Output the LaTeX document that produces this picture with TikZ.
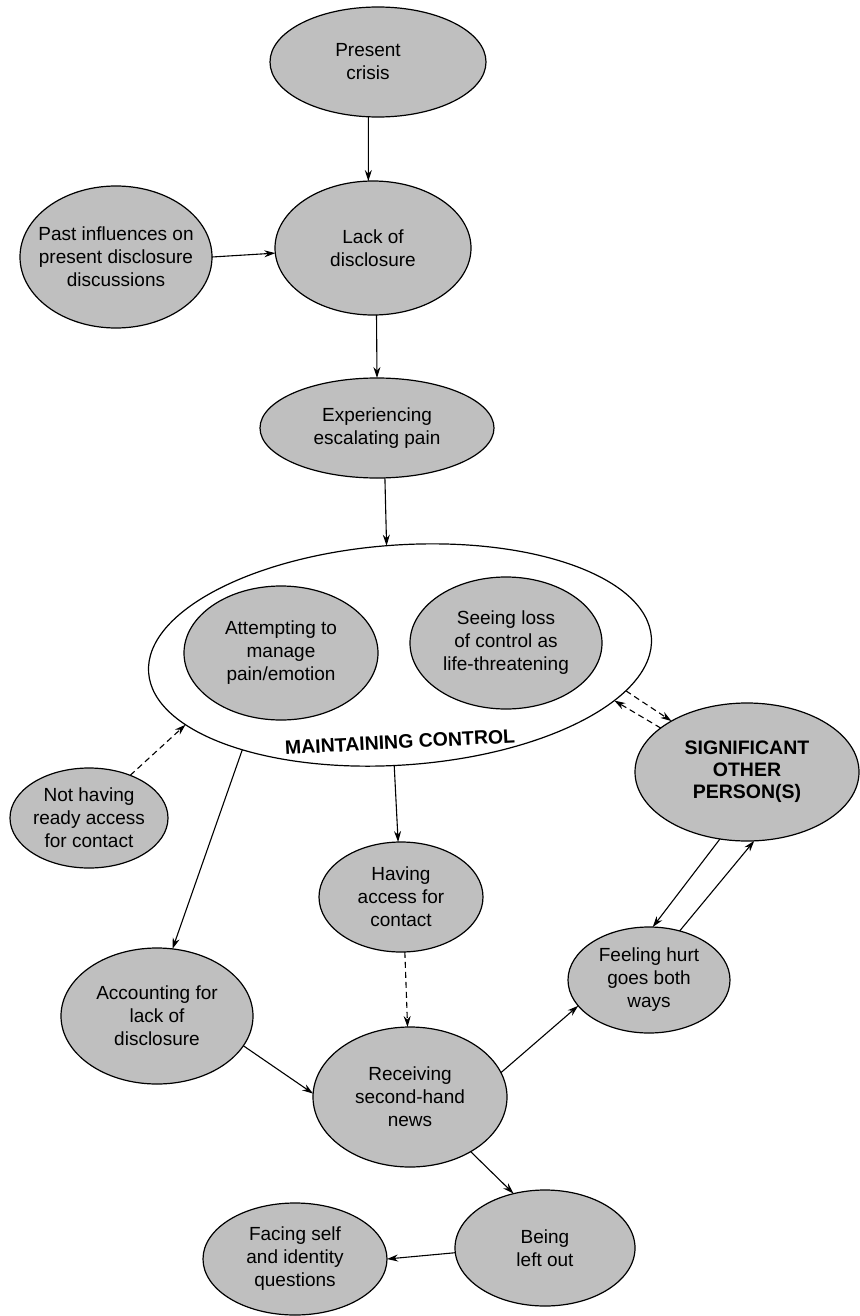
\documentclass[tikz,border=0pt]{standalone}
\usepackage{fontspec}
\setmainfont{Liberation Sans}
\usetikzlibrary{shapes.geometric,arrows.meta}
\begin{document}
\begin{tikzpicture}[x=1pt,y=-1pt,
  ell/.style={ellipse, draw=black, line width=1.2pt, fill=black!25, inner sep=0pt, outer sep=0pt},
  lbl/.style={align=center, inner sep=0pt, font=\fontsize{19}{23}\selectfont},
  blbl/.style={align=center, inner sep=0pt, font=\fontsize{19.5}{22}\selectfont\bfseries},
  arr/.style={line width=1.1pt, -{Stealth[length=11pt,width=7pt]}},
  darr/.style={arr, dash pattern=on 6pt off 4pt}]
\fill[white] (0,0) rectangle (859,1316);
\useasboundingbox (0,0) rectangle (859,1316);

% nodes
\node[ell, minimum width=216pt, minimum height=110pt,
  label={[lbl, xshift=-10pt]center:Present\\crisis}] (pc) at (378,62) {};
\node[ell, minimum width=196pt, minimum height=134pt,
  label={[lbl]center:Lack of\\disclosure}] (lack) at (373,248) {};
\node[ell, minimum width=192pt, minimum height=142pt,
  label={[lbl]center:Past influences on\\present disclosure\\discussions}] (past) at (116,257) {};
\node[ell, minimum width=234pt, minimum height=100pt,
  label={[lbl]center:Experiencing\\escalating pain}] (exp) at (377,428) {};

\node[ellipse, draw=black, line width=1.2pt, fill=white, inner sep=0pt, outer sep=0pt,
  minimum width=504pt, minimum height=220pt, rotate=4] (mc) at (400,655) {};
\node[blbl, rotate=3] (mcT) at (400,742) {MAINTAINING CONTROL};

\node[ell, minimum width=194pt, minimum height=134pt,
  label={[lbl]center:Attempting to\\manage\\pain/emotion}] (att) at (281,653) {};
\node[ell, minimum width=192pt, minimum height=132pt,
  label={[lbl]center:Seeing loss\\of control as\\life-threatening}] (see) at (506,643) {};

\node[ell, minimum width=224pt, minimum height=138pt,
  label={[blbl]center:SIGNIFICANT\\OTHER\\PERSON(S)}] (sig) at (747,772) {};
\node[ell, minimum width=158pt, minimum height=100pt,
  label={[lbl]center:Not having\\ready access\\for contact}] (nothave) at (89,818) {};
\node[ell, minimum width=164pt, minimum height=110pt,
  label={[lbl]center:Having\\access for\\contact}] (have) at (401,897) {};
\node[ell, minimum width=162pt, minimum height=106pt,
  label={[lbl]center:Feeling hurt\\goes both\\ways}] (hurt) at (649,980) {};
\node[ell, minimum width=192pt, minimum height=136pt,
  label={[lbl]center:Accounting for\\lack of\\disclosure}] (acc) at (157,1016) {};
\node[ell, minimum width=194pt, minimum height=140pt,
  label={[lbl]center:Receiving\\second-hand\\news}] (rec) at (410,1097) {};
\node[ell, minimum width=180pt, minimum height=116pt,
  label={[lbl]center:Being\\left out}] (left) at (545,1248) {};
\node[ell, minimum width=184pt, minimum height=112pt,
  label={[lbl]center:Facing self\\and identity\\questions}] (face) at (295,1259) {};

% connectors
\draw[arr] (pc.-100) -- (lack.94);
\draw[arr] (past.east) -- (lack.183);
\draw[arr] (lack.-87) -- (exp.90);
\draw[arr] (exp.-81) -- (mc.93);
\draw[darr] (nothave.46) -- (mc.194);
\draw[arr] (mc.207) -- (acc.77);
\draw[arr] (mc.-97) -- (have.93);
\draw[darr] (have.-86) -- (rec.92);
\draw[arr] (acc.-19) -- (rec.178);
\draw[arr] (rec.15) -- (hurt.200);
\draw[arr] (sig.248) -- (hurt.86);
\draw[arr] (hurt.58) -- (sig.276);
\draw[arr] (rec.-42) -- (left.120);
\draw[arr] (left.183) -- (face.east);
\draw[darr] (mc.-13) -- (sig.146);
\draw[darr] (sig.153) -- (mc.-16);
\end{tikzpicture}
\end{document}
